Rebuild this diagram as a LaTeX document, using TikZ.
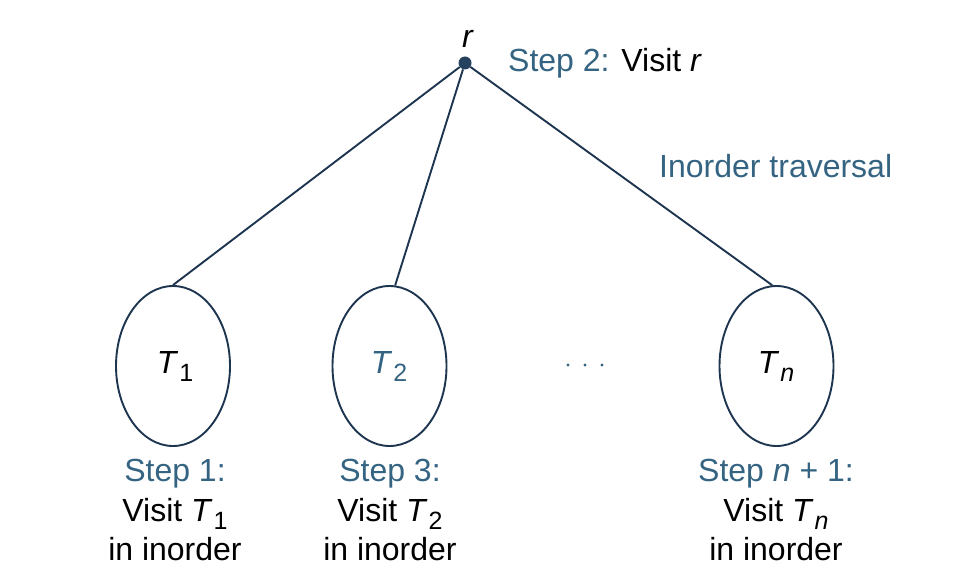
\documentclass[tikz,border=0pt]{standalone}
\usepackage{fontspec}
\setmainfont{Liberation Sans}
\usetikzlibrary{shapes.geometric}
\definecolor{stepblue}{HTML}{346482}
\definecolor{linenavy}{HTML}{1E3550}
\newcommand{\Tsub}[1]{\textit{T}\kern1pt\raisebox{-0.28em}{\fontsize{25}{25}\selectfont #1}}
\tikzset{
  sub/.style={ellipse, draw=linenavy, line width=1.9pt, minimum width=114, minimum height=160, inner sep=0pt},
  edge/.style={draw=linenavy, line width=1.9pt},
  lbl/.style={anchor=base, inner sep=0pt, font=\fontsize{32}{38}\selectfont},
}
\begin{document}
\begin{tikzpicture}[x=1pt,y=-1pt]
\useasboundingbox (0,0) rectangle (974,580);
\node[circle, fill=linenavy!70!stepblue, inner sep=0pt, minimum size=13] (root) at (465,63) {};
\node[sub] (T1) at (173,366) {};
\node[sub] (T2) at (389.5,366) {};
\node[sub] (Tn) at (776.5,366) {};
\draw[edge] (root) -- (T1.90);
\draw[edge] (root) -- (T2.86);
\draw[edge] (root) -- (Tn.93);
\node[lbl] (rlab) at (468,48) {\textit{r}};
\node[lbl, anchor=base west] (s2) at (508,72) {\textcolor{stepblue}{Step 2:} Visit \textit{r}};
\node[lbl, anchor=base west, text=stepblue] (trav) at (659,178) {Inorder traversal};
\node[lbl] (t1) at (175,373) {\Tsub{1}};
\node[lbl, text=stepblue] (t2) at (389,373) {\Tsub{2}};
\node[lbl] (tn) at (776,373) {\Tsub{\textit{n}}};
\foreach \i/\xx in {1/568,2/585,3/602} \fill[stepblue] (\xx,365) circle (1.7) coordinate (dot\i);
\node[lbl, text=stepblue] (a1) at (175,481) {Step 1:};
\node[lbl] (a2) at (175,521) {Visit \Tsub{1}};
\node[lbl] (a3) at (175,560) {in inorder};
\node[lbl, text=stepblue] (b1) at (390,481) {Step 3:};
\node[lbl] (b2) at (390,521) {Visit \Tsub{2}};
\node[lbl] (b3) at (390,560) {in inorder};
\node[lbl, text=stepblue] (c1) at (776,481) {Step \textit{n} + 1:};
\node[lbl] (c2) at (776,521) {Visit \Tsub{\textit{n}}};
\node[lbl] (c3) at (776,560) {in inorder};
\end{tikzpicture}
\end{document}
